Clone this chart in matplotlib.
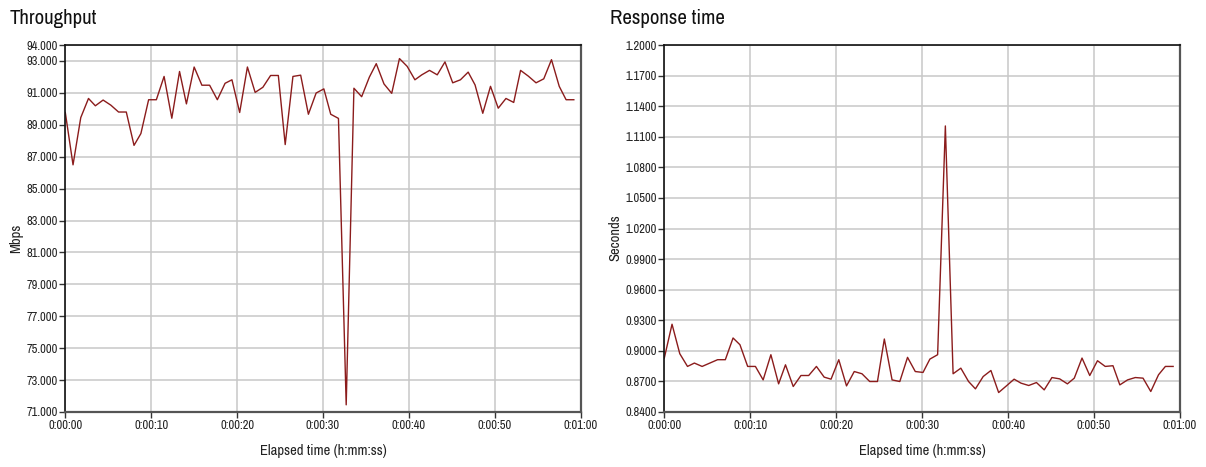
import numpy as np
import matplotlib
matplotlib.use("Agg")
import matplotlib.pyplot as plt
from matplotlib.ticker import FuncFormatter
from matplotlib import font_manager

# elapsed time of each sample (seconds)
elapsed_s = [0.0, 0.9, 1.8, 2.7, 3.5, 4.4, 5.3, 6.2, 7.1, 8.0,
             8.8, 9.7, 10.6, 11.5, 12.4, 13.3, 14.1, 15.0, 15.9, 16.8,
             17.7, 18.6, 19.4, 20.3, 21.2, 22.1, 23.0, 23.9, 24.8, 25.6,
             26.5, 27.4, 28.3, 29.2, 30.1, 30.9, 31.8, 32.7, 33.6, 34.5,
             35.4, 36.2, 37.1, 38.0, 38.9, 39.8, 40.7, 41.5, 42.4, 43.3,
             44.2, 45.1, 46.0, 46.9, 47.7, 48.6, 49.5, 50.4, 51.3, 52.2,
             53.0, 53.9, 54.8, 55.7, 56.6, 57.5, 58.3, 59.2]

throughput_mbps = [89.77, 86.49, 89.45, 90.65, 90.19, 90.55, 90.23, 89.80, 89.80, 87.71,
                   88.45, 90.57, 90.57, 92.03, 89.41, 92.34, 90.31, 92.62, 91.48, 91.48,
                   90.57, 91.60, 91.82, 89.77, 92.62, 91.03, 91.35, 92.09, 92.09, 87.76,
                   92.03, 92.11, 89.66, 90.99, 91.25, 89.66, 89.40, 71.45, 91.29, 90.76,
                   91.99, 92.83, 91.56, 90.97, 93.15, 92.66, 91.82, 92.13, 92.41, 92.13,
                   92.94, 91.63, 91.82, 92.30, 91.50, 89.72, 91.41, 90.04, 90.65, 90.40,
                   92.41, 92.05, 91.63, 91.88, 93.08, 91.41, 90.57, 90.57]

response_s = [0.8929, 0.9261, 0.8972, 0.8847, 0.8880, 0.8847, 0.8880, 0.8913, 0.8913, 0.9126,
              0.9060, 0.8847, 0.8847, 0.8715, 0.8962, 0.8676, 0.8863, 0.8650, 0.8758, 0.8758,
              0.8847, 0.8742, 0.8722, 0.8913, 0.8656, 0.8797, 0.8775, 0.8699, 0.8699, 0.9116,
              0.8715, 0.8699, 0.8936, 0.8797, 0.8788, 0.8919, 0.8962, 1.1206, 0.8775, 0.8830,
              0.8699, 0.8627, 0.8748, 0.8807, 0.8591, 0.8656, 0.8722, 0.8683, 0.8660, 0.8689,
              0.8617, 0.8738, 0.8725, 0.8676, 0.8732, 0.8929, 0.8758, 0.8903, 0.8847, 0.8854,
              0.8666, 0.8715, 0.8738, 0.8732, 0.8601, 0.8765, 0.8847, 0.8847]

x_ticks = [0, 10, 20, 30, 40, 50, 60]
tp_ticks = [71, 73, 75, 77, 79, 81, 83, 85, 87, 89, 91, 93, 94]
rt_ticks = [0.84, 0.87, 0.90, 0.93, 0.96, 0.99, 1.02, 1.05, 1.08, 1.11, 1.14, 1.17, 1.20]

W, H = 1206, 467


def pick_narrow():
    """
    use a condensed face if one is installed, else plain Liberation Sans
    """
    for f in font_manager.fontManager.ttflist:
        if 'Narrow' in f.name or 'Condensed' in f.name:
            return f.name, True
    return 'Liberation Sans', False


NARROW, HAS_NARROW = pick_narrow()
FONT = [NARROW, 'Liberation Sans', 'DejaVu Sans']
# sizes: (tick, axis label, title)
SIZES = (9, 10.5, 15) if HAS_NARROW else (7.6, 8.8, 12.5)


def hms(v, pos=None):
    v = int(round(v))
    return "%d:%02d:%02d" % (v // 3600, v // 60 % 60, v % 60)


def draw_panel(fig, rect, x, y, yticks, ylim, yfmt, title, ylabel, title_x, ylabel_x):
    ax = fig.add_axes(rect)
    ax.plot(x, y, color='#8b1c1c', lw=1.0)
    ax.set_xlim(0, 60)
    ax.set_ylim(*ylim)
    ax.set_xticks(x_ticks)
    ax.set_yticks(yticks)
    ax.xaxis.set_major_formatter(FuncFormatter(hms))
    ax.yaxis.set_major_formatter(FuncFormatter(lambda v, p: yfmt % v))
    ax.grid(True, color='#c8c8c8', lw=1.1)
    ax.set_axisbelow(True)
    ax.tick_params(direction='out', length=4, width=1, color='#333333', pad=1.5,
                   labelsize=SIZES[0], labelcolor='#222222')
    for lbl in ax.get_xticklabels() + ax.get_yticklabels():
        lbl.set_family(FONT)
    for side in ['top', 'left']:
        ax.spines[side].set_color('#111111')
        ax.spines[side].set_linewidth(1.2)
    for side in ['right', 'bottom']:
        ax.spines[side].set_color('#555555')
        ax.spines[side].set_linewidth(1.6)

    fig.text(title_x / W, 1 - 18 / H, title, family=FONT, fontsize=SIZES[2],
             ha='left', va='center', color='#111111')
    fig.text(ylabel_x / W, 1 - 238 / H, ylabel, family=FONT, fontsize=SIZES[1],
             rotation=90, ha='center', va='center', color='#222222')
    cx = rect[0] + rect[2] / 2
    fig.text(cx, 1 - 451 / H, 'Elapsed time (h:mm:ss)', family=FONT, fontsize=SIZES[1],
             ha='center', va='center', color='#222222')
    return ax


def main():
    fig = plt.figure(figsize=(W / 100, H / 100), dpi=100)
    bottom = 1 - 412 / H
    top = 1 - 45 / H
    draw_panel(fig, [65.3 / W, bottom, (580.7 - 65.3) / W, top - bottom],
               elapsed_s, throughput_mbps, tp_ticks, (71, 94), '%.3f',
               'Throughput', 'Mbps', 10, 16)
    draw_panel(fig, [664.3 / W, bottom, (1180 - 664.3) / W, top - bottom],
               elapsed_s, response_s, rt_ticks, (0.84, 1.20), '%.4f',
               'Response time', 'Seconds', 610, 615)
    fig.savefig('out.png', dpi=100)


if __name__ == "__main__":
    main()
